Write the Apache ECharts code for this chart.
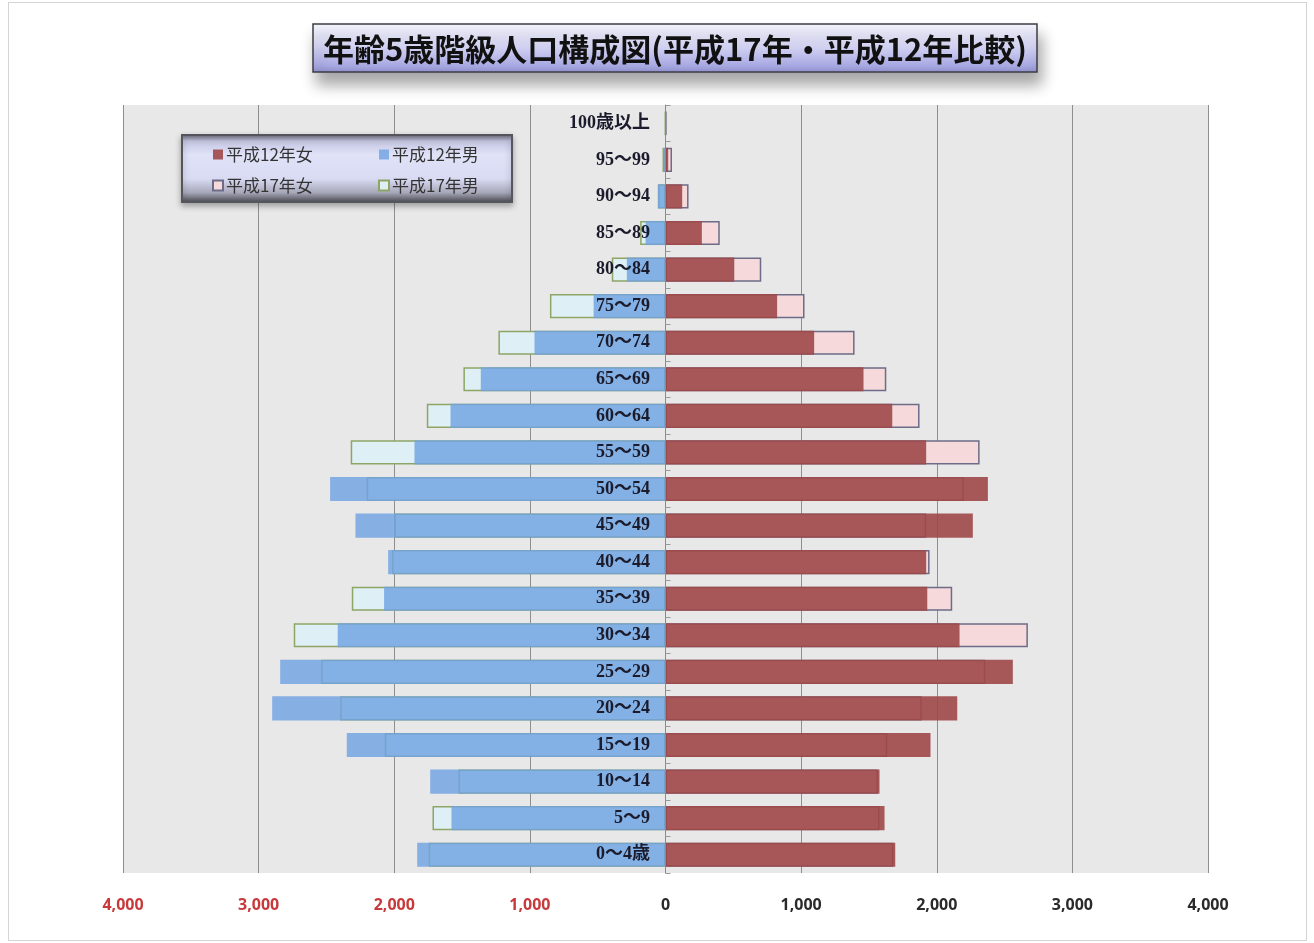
<!DOCTYPE html>
<html>
<head>
<meta charset="utf-8">
<script src="https://cdn.jsdelivr.net/npm/echarts@6/dist/echarts.min.js"></script>
<style>
html,body{margin:0;padding:0;background:#fff;}
#chart{width:1314px;height:943px;}
#frame{position:absolute;left:8px;top:2px;width:1297px;height:937px;border:1px solid #d4d4d4;pointer-events:none;}
</style>
</head>
<body>
<div id="chart"></div>
<div id="frame"></div>
<script>
// Age classes, bottom to top
const categories = ['0～4歳','5～9','10～14','15～19','20～24','25～29','30～34','35～39','40～44','45～49','50～54','55～59','60～64','65～69','70～74','75～79','80～84','85～89','90～94','95～99','100歳以上'];
// 平成12年 (2000)
const maleH12   = [1831,1578,1735,2350,2900,2841,2417,2075,2045,2286,2473,1851,1585,1362,966,530,285,147,57,10,2];
const femaleH12 = [1694,1615,1578,1954,2151,2561,2168,1930,1922,2266,2377,1922,1672,1460,1096,823,507,268,123,20,3];
// 平成17年 (2005)
const maleH17   = [1746,1718,1527,2070,2399,2539,2741,2313,2016,1999,2203,2321,1760,1490,1232,852,396,187,55,22,3];
const femaleH17 = [1680,1578,1566,1635,1890,2358,2672,2114,1947,1922,2200,2316,1873,1628,1394,1025,706,400,170,48,6];
const xTicks = [-4000,-3000,-2000,-1000,0,1000,2000,3000,4000];
const TITLE = '年齢5歳階級人口構成図(平成17年・平成12年比較)';

const chart = echarts.init(document.getElementById('chart'));
const neg = a => a.map(v => -v);

chart.setOption({
  animation: false,
  backgroundColor: '#ffffff',
  grid: {left: 123, right: 106, top: 105, bottom: 70, show: true, backgroundColor: '#e8e8e8', borderWidth: 0},
  xAxis: {
    type: 'value', min: xTicks[0], max: xTicks[xTicks.length-1], interval: 1000,
    axisLine: {show: false}, axisTick: {show: false},
    splitLine: {show: true, lineStyle: {color: '#8e8e8e', width: 1}},
    axisLabel: {
      margin: 24, fontSize: 16, fontWeight: 'bold', fontFamily: 'Noto Sans, sans-serif',
      formatter: v => Math.abs(v).toLocaleString('en-US'),
      color: v => (v < 0 ? '#c8393b' : '#2a2a2a')
    }
  },
  yAxis: {
    type: 'category', data: categories, z: 10,
    axisLine: {show: true, onZero: true, lineStyle: {color: '#8a8a8a', width: 1}},
    axisTick: {show: true, inside: true, length: 5, lineStyle: {color: '#999'}},
    splitLine: {show: false},
    axisLabel: {
      margin: -527, fontSize: 18, fontWeight: 'bold', color: '#1b1b2c', align: 'right',
      fontFamily: "'Liberation Serif','DejaVu Serif','Noto Sans CJK JP',serif"
    }
  },
  legend: [
    {left: 207, top: 141, orient: 'vertical', itemGap: 14, itemWidth: 10, itemHeight: 10, icon: 'rect',
     data: ['平成12年女','平成17年女'], textStyle: {fontSize: 17, color: '#333', fontFamily: "'Noto Sans CJK JP',sans-serif", padding: [0,0,0,-2]}},
    {left: 373, top: 141, orient: 'vertical', itemGap: 14, itemWidth: 10, itemHeight: 10, icon: 'rect',
     data: ['平成12年男','平成17年男'], textStyle: {fontSize: 17, color: '#333', fontFamily: "'Noto Sans CJK JP',sans-serif", padding: [0,0,0,-2]}}
  ],
  graphic: [
    {type: 'rect', z: 1, shape: {x: 313, y: 24, width: 724, height: 48},
     style: {fill: {type: 'linear', x: 0, y: 0, x2: 0, y2: 1, colorStops: [
       {offset: 0, color: '#f6f6fd'}, {offset: 0.45, color: '#d6d6f4'}, {offset: 0.85, color: '#a9a9e3'}, {offset: 1, color: '#8e8ecb'}]},
       stroke: '#3c3c46', lineWidth: 1.5, shadowBlur: 14, shadowOffsetY: 12, shadowOffsetX: 4, shadowColor: 'rgba(0,0,0,0.35)'}},
    {type: 'text', z: 2, x: 675, y: 49,
     style: {text: TITLE, fontSize: 31, fontWeight: 'bold', fontFamily: "'Noto Sans CJK JP',sans-serif", fill: '#111',
       align: 'center', verticalAlign: 'middle', textAlign: 'center', textVerticalAlign: 'middle'}},
    {type: 'rect', z: 3, shape: {x: 182, y: 135, width: 330, height: 67},
     style: {fill: {type: 'linear', x: 0, y: 0, x2: 0, y2: 1, colorStops: [
       {offset: 0, color: '#5e5e68'}, {offset: 0.1, color: '#c4c6e2'}, {offset: 0.3, color: '#e0e2f8'}, {offset: 0.65, color: '#d9dbf3'},
       {offset: 0.85, color: '#a6a7b8'}, {offset: 1, color: '#45454c'}]},
       stroke: '#55555e', lineWidth: 2, shadowBlur: 6, shadowOffsetY: 3, shadowColor: 'rgba(0,0,0,0.3)'}}
  ],
  series: [
    {name: '平成17年女', type: 'bar', data: femaleH17, barWidth: '66%', barGap: '-100%',
     itemStyle: {color: '#f5d9db', borderColor: '#6c6c88', borderWidth: 1.5}},
    {name: '平成17年男', type: 'bar', data: neg(maleH17), barWidth: '66%', barGap: '-100%',
     itemStyle: {color: '#def0f5', borderColor: '#8ea566', borderWidth: 1.5}},
    {name: '平成12年女', type: 'bar', data: femaleH12, barWidth: '66%', barGap: '-100%',
     itemStyle: {color: 'rgba(158,72,72,0.9)'}},
    {name: '平成12年男', type: 'bar', data: neg(maleH12), barWidth: '66%', barGap: '-100%',
     itemStyle: {color: 'rgba(112,162,226,0.82)'}}
  ]
});
</script>
</body>
</html>
